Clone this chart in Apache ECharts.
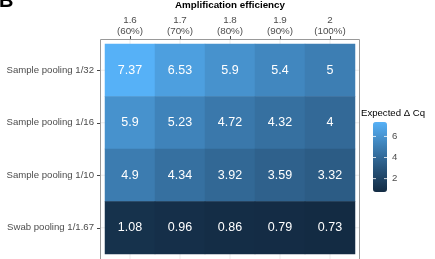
<!DOCTYPE html>
<html>
<head>
<meta charset="utf-8">
<script src="https://cdn.jsdelivr.net/npm/echarts@6/dist/echarts.min.js"></script>
<style>
  html, body { margin: 0; padding: 0; background: #fff; }
  #chart { width: 435px; height: 259px; }
</style>
</head>
<body>
<div id="chart"></div>
<script>
// columns: amplification efficiency
var efficiency = ['1.6\n(60%)', '1.7\n(70%)', '1.8\n(80%)', '1.9\n(90%)', '2\n(100%)'];
// rows, top to bottom
var pooling = ['Sample pooling 1/32', 'Sample pooling 1/16', 'Sample pooling 1/10', 'Swab pooling 1/1.67'];
// expected delta Cq, one array per row
var pool32 = [7.37, 6.53, 5.9, 5.4, 5];
var pool16 = [5.9, 5.23, 4.72, 4.32, 4];
var pool10 = [4.9, 4.34, 3.92, 3.59, 3.32];
var swab167 = [1.08, 0.96, 0.86, 0.79, 0.73];
var legendTicks = [2, 4, 6];

var rows = [pool32, pool16, pool10, swab167];
var cells = [];
rows.forEach(function (row, r) {
    row.forEach(function (v, c) {
        cells.push([c, r, v]);
    });
});

var vMin = 0.73, vMax = 7.37;
var barLeft = 373, barTop = 122, barW = 14, barH = 70;

var chart = echarts.init(document.getElementById('chart'));

var option = {
    animation: false,
    grid: { left: 105, top: 44, width: 250, height: 210, outerBoundsMode: 'none', containLabel: false },
    xAxis: {
        type: 'category',
        position: 'top',
        offset: 5,
        data: efficiency,
        axisLine: { show: false },
        axisTick: { show: true, alignWithLabel: true, length: 3, lineStyle: { color: '#444' } },
        axisLabel: { fontSize: 9.8, color: '#4D4D4D', lineHeight: 11, margin: 2, fontFamily: 'Liberation Sans' },
        splitLine: { show: false },
        name: 'Amplification efficiency',
        nameLocation: 'middle',
        nameGap: 23,
        nameTextStyle: { fontSize: 9.8, fontWeight: 'bold', color: '#000', fontFamily: 'Liberation Sans' }
    },
    yAxis: {
        type: 'category',
        inverse: true,
        offset: 5,
        data: pooling,
        axisLine: { show: false },
        axisTick: { show: true, alignWithLabel: true, length: 3, lineStyle: { color: '#444' } },
        axisLabel: { fontSize: 9.6, color: '#4D4D4D', margin: 6, fontFamily: 'Liberation Sans' },
        splitLine: { show: false }
    },
    visualMap: {
        type: 'continuous',
        min: vMin,
        max: vMax,
        calculable: false,
        show: true,
        left: barLeft,
        top: barTop,
        itemWidth: barW,
        itemHeight: barH,
        padding: 0,
        text: null,
        inRange: { color: ['#132B43', '#336A98', '#56B1F7'] }
    },
    series: [{
        type: 'heatmap',
        data: cells,
        label: {
            show: true,
            color: '#fff',
            fontSize: 12.5,
            fontFamily: 'Liberation Sans',
            formatter: function (p) { return p.value[2]; }
        },
        itemStyle: { borderWidth: 0 },
        emphasis: { disabled: true }
    }]
};

chart.setOption(option);

// grid lines, panel border, legend ticks and titles
var g = [];
var panel = { x: 100, y: 39, w: 259, h: 226 };
efficiency.forEach(function (e, i) {
    var px = chart.convertToPixel({ xAxisIndex: 0 }, i);
    g.push({ type: 'line', z: -1, shape: { x1: px, y1: panel.y, x2: px, y2: panel.y + panel.h }, style: { stroke: '#EBEBEB', lineWidth: 1 } });
});
pooling.forEach(function (p, i) {
    var py = chart.convertToPixel({ yAxisIndex: 0 }, i);
    g.push({ type: 'line', z: -1, shape: { x1: panel.x, y1: py, x2: panel.x + panel.w, y2: py }, style: { stroke: '#EBEBEB', lineWidth: 1 } });
});
g.push({ type: 'rect', z: 10, shape: { x: panel.x + 0.5, y: panel.y + 0.5, width: panel.w, height: panel.h }, style: { fill: 'none', stroke: '#999', lineWidth: 1 } });

legendTicks.forEach(function (t) {
    var ty = barTop + barH * (vMax - t) / (vMax - vMin);
    g.push({ type: 'line', z: 10, shape: { x1: barLeft, y1: ty, x2: barLeft + 3, y2: ty }, style: { stroke: 'rgba(255,255,255,0.8)', lineWidth: 1 } });
    g.push({ type: 'line', z: 10, shape: { x1: barLeft + barW - 3, y1: ty, x2: barLeft + barW, y2: ty }, style: { stroke: 'rgba(255,255,255,0.8)', lineWidth: 1 } });
    g.push({ type: 'text', z: 10, x: barLeft + barW + 5, y: ty, style: { text: String(t), fontSize: 9.6, fill: '#4D4D4D', fontFamily: 'Liberation Sans', verticalAlign: 'middle' } });
});
g.push({ type: 'text', z: 10, x: 361, y: 113, style: { text: 'Expected \u0394 Cq', fontSize: 9.6, fill: '#000', fontFamily: 'Liberation Sans', verticalAlign: 'middle' } });
g.push({ type: 'text', z: 10, x: -1, y: -9, style: { text: 'B', fontSize: 20, fontWeight: 'bold', fill: '#000', fontFamily: 'Liberation Sans' } });

chart.setOption({ graphic: g });
</script>
</body>
</html>
